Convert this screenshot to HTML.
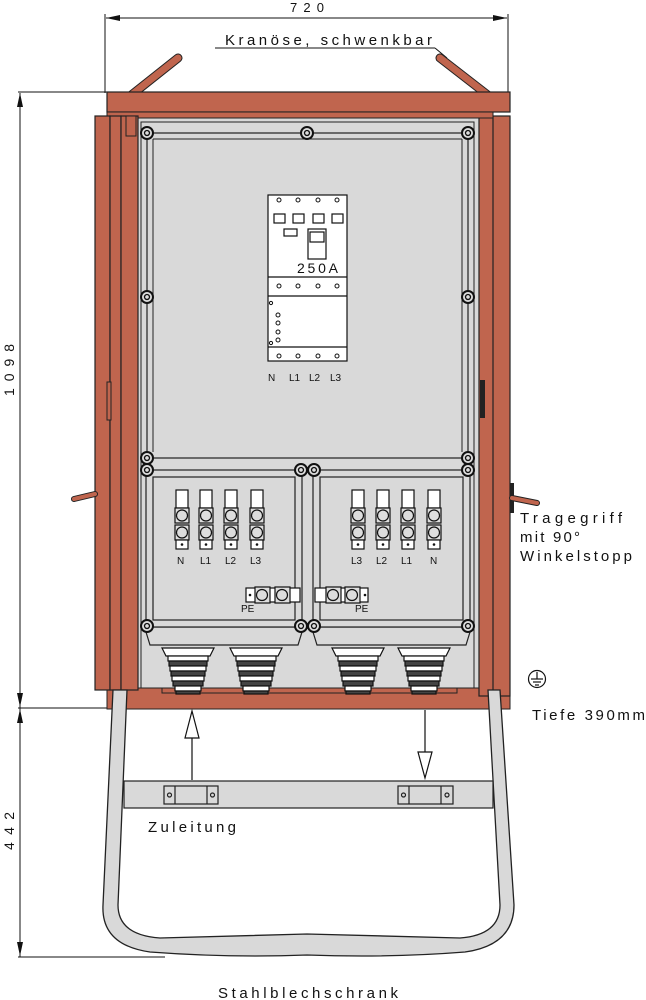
<!DOCTYPE html>
<html><head><meta charset="utf-8"><style>
html,body{margin:0;padding:0;background:#fff;}
svg{display:block;}
text{font-family:"Liberation Sans",sans-serif;fill:#111;}
</style></head><body>
<svg width="646" height="1000" viewBox="0 0 646 1000" xmlns="http://www.w3.org/2000/svg">
<defs>
<g id="scr"><circle r="6" fill="#ddd" stroke="#111" stroke-width="2"/><circle r="2.5" fill="none" stroke="#111" stroke-width="1.3"/></g>
<g id="term">
<rect x="-6" y="0" width="12" height="18" fill="#fff" stroke="#111" stroke-width="1.2"/>
<rect x="-7" y="18" width="14" height="15" fill="#ddd" stroke="#111" stroke-width="1.2"/>
<circle cx="0" cy="25.5" r="5.5" fill="#ddd" stroke="#111" stroke-width="1.2"/>
<rect x="-7" y="35" width="14" height="15" fill="#ddd" stroke="#111" stroke-width="1.2"/>
<circle cx="0" cy="42.5" r="5.5" fill="#ddd" stroke="#111" stroke-width="1.2"/>
<rect x="-6" y="50" width="12" height="9" fill="#fff" stroke="#111" stroke-width="1.2"/>
<circle cx="0" cy="54.5" r="1.3" fill="#111"/>
</g>
<g id="gland" stroke="#111" stroke-width="1.2" fill="#fff">
<path d="M-26 648 L26 648 L22 656 L-22 656 Z"/>
<rect x="-20" y="656" width="40" height="5" fill="#fff"/>
<rect x="-19" y="661" width="38" height="5" fill="#444"/>
<rect x="-18" y="666" width="36" height="5" fill="#fff"/>
<rect x="-17" y="671" width="34" height="5" fill="#444"/>
<rect x="-16" y="676" width="32" height="5" fill="#fff"/>
<rect x="-15" y="681" width="30" height="5" fill="#444"/>
<rect x="-13" y="686" width="26" height="5" fill="#fff"/>
<rect x="-12" y="691" width="24" height="3" fill="#444"/>
</g>
</defs>

<g stroke="#111" stroke-width="1" fill="none">
<line x1="105" y1="14" x2="105" y2="93"/><line x1="508" y1="14" x2="508" y2="93"/>
<line x1="106" y1="18" x2="507" y2="18"/>
<line x1="215" y1="48" x2="435" y2="48"/><line x1="435" y1="48" x2="447" y2="58"/>
<line x1="20" y1="93" x2="20" y2="957"/>
<line x1="18" y1="92" x2="107" y2="92"/><line x1="18" y1="708" x2="107" y2="708"/>
<line x1="18" y1="957" x2="165" y2="957"/>
</g>
<path d="M106 18 L120 15 L120 21 Z M507 18 L493 15 L493 21 Z" fill="#111"/>
<path d="M20 93 L17 107 L23 107 Z M20 707 L17 693 L23 693 Z M20 709 L17 723 L23 723 Z M20 956 L17 942 L23 942 Z" fill="#111"/>
<text x="290" y="12" font-size="13" textLength="34" lengthAdjust="spacing">720</text>
<text x="225" y="45" font-size="15" textLength="207" lengthAdjust="spacing">Kranöse, schwenkbar</text>
<text transform="translate(14,396) rotate(-90)" font-size="14" textLength="52" lengthAdjust="spacing">1098</text>
<text transform="translate(14,850) rotate(-90)" font-size="14" textLength="38" lengthAdjust="spacing">442</text>

<g stroke="#222" stroke-width="9" stroke-linecap="round"><line x1="120" y1="104" x2="178" y2="58"/><line x1="440" y1="58" x2="498" y2="103"/></g>
<g stroke="#c0654e" stroke-width="7" stroke-linecap="round"><line x1="120" y1="104" x2="178" y2="58"/><line x1="440" y1="58" x2="498" y2="103"/></g>

<rect x="107" y="687" width="403" height="22" fill="#c0654e" stroke="#222" stroke-width="1"/>
<rect x="162" y="687" width="295" height="6" fill="#c0654e" stroke="#222" stroke-width="1"/>

<rect x="136" y="116" width="343" height="572" fill="#d9d9d9" stroke="#222" stroke-width="1"/>
<rect x="141" y="122" width="333" height="566" fill="none" stroke="#222" stroke-width="1"/>

<rect x="479" y="116" width="31" height="580" fill="#c0654e" stroke="#222" stroke-width="1.2"/>
<line x1="493" y1="116" x2="493" y2="695" stroke="#222" stroke-width="1.2"/>
<rect x="480" y="380" width="5" height="38" fill="#222"/>
<rect x="107" y="92" width="403" height="20" fill="#c0654e" stroke="#222" stroke-width="1.2"/>
<rect x="107" y="112" width="386" height="6" fill="#c0654e" stroke="#222" stroke-width="1"/>
<rect x="95" y="116" width="15" height="574" fill="#c0654e" stroke="#222" stroke-width="1.2"/>
<rect x="110" y="116" width="11" height="574" fill="#c0654e" stroke="#222" stroke-width="1.2"/>
<rect x="121" y="116" width="17" height="574" fill="#c0654e" stroke="#222" stroke-width="1.2"/>
<rect x="107" y="382" width="4" height="38" fill="#c0654e" stroke="#222" stroke-width="1"/>
<rect x="126" y="116" width="10" height="20" fill="#c0654e" stroke="#222" stroke-width="1"/>
<line x1="74" y1="499" x2="95" y2="494" stroke="#222" stroke-width="6" stroke-linecap="round"/>
<line x1="74" y1="499" x2="95" y2="494" stroke="#c0654e" stroke-width="4" stroke-linecap="round"/>
<rect x="510" y="483" width="4" height="30" fill="#222"/>
<line x1="512" y1="498" x2="537" y2="503" stroke="#222" stroke-width="6" stroke-linecap="round"/>
<line x1="512" y1="498" x2="537" y2="503" stroke="#c0654e" stroke-width="4" stroke-linecap="round"/>

<rect x="147" y="133" width="321" height="325" fill="#d9d9d9" stroke="#222" stroke-width="1.2"/>
<line x1="153" y1="139" x2="462" y2="139" stroke="#222"/><line x1="153" y1="139" x2="153" y2="452" stroke="#222"/><line x1="462" y1="139" x2="462" y2="452" stroke="#222"/>
<use href="#scr" x="147" y="133"/><use href="#scr" x="307" y="133"/><use href="#scr" x="468" y="133"/>
<use href="#scr" x="147" y="297"/><use href="#scr" x="468" y="297"/>
<use href="#scr" x="147" y="458"/><use href="#scr" x="468" y="458"/>

<g stroke="#111" stroke-width="1.2" fill="#fff">
<rect x="268" y="195" width="79" height="166"/>
<line x1="268" y1="277" x2="347" y2="277"/><line x1="268" y1="296" x2="347" y2="296"/><line x1="268" y1="347" x2="347" y2="347"/>
<rect x="274" y="214" width="11" height="9"/><rect x="293" y="214" width="11" height="9"/><rect x="313" y="214" width="11" height="9"/><rect x="332" y="214" width="11" height="9"/>
<rect x="284" y="229" width="13" height="7"/>
<rect x="308" y="229" width="18" height="30"/><rect x="310" y="232" width="14" height="10"/>
<g stroke-width="1"><circle cx="279" cy="200" r="2"/><circle cx="298" cy="200" r="2"/><circle cx="318" cy="200" r="2"/><circle cx="337" cy="200" r="2"/>
<circle cx="279" cy="286" r="2"/><circle cx="298" cy="286" r="2"/><circle cx="318" cy="286" r="2"/><circle cx="337" cy="286" r="2"/>
<circle cx="279" cy="356" r="2"/><circle cx="298" cy="356" r="2"/><circle cx="318" cy="356" r="2"/><circle cx="337" cy="356" r="2"/>
<circle cx="278" cy="315" r="2"/><circle cx="278" cy="323" r="2"/><circle cx="278" cy="332" r="2"/><circle cx="278" cy="340" r="2"/>
<circle cx="271" cy="303" r="1.6"/><circle cx="271" cy="343" r="1.6"/></g>
</g>
<text x="297" y="273" font-size="14" textLength="41" lengthAdjust="spacing">250A</text>
<g font-size="10"><text x="268" y="381">N</text><text x="289" y="381">L1</text><text x="309" y="381">L2</text><text x="330" y="381">L3</text></g>

<g stroke="#222" stroke-width="1.2" fill="#d9d9d9">
<path d="M146 627 L302 627 L302 632 L298 645 L150 645 L146 632 Z"/>
<path d="M313 627 L470 627 L470 632 L466 645 L317 645 L313 632 Z"/>
<rect x="146" y="470" width="156" height="157"/><rect x="313" y="470" width="157" height="157"/>
<rect x="153" y="477" width="142" height="143" fill="none"/><rect x="320" y="477" width="143" height="143" fill="none"/>
</g>
<use href="#scr" x="147" y="470"/><use href="#scr" x="301" y="470"/><use href="#scr" x="314" y="470"/><use href="#scr" x="468" y="470"/>
<use href="#scr" x="147" y="626"/><use href="#scr" x="301" y="626"/><use href="#scr" x="314" y="626"/><use href="#scr" x="468" y="626"/>

<use href="#term" x="182" y="490"/><use href="#term" x="206" y="490"/><use href="#term" x="231" y="490"/><use href="#term" x="257" y="490"/>
<use href="#term" x="358" y="490"/><use href="#term" x="383" y="490"/><use href="#term" x="408" y="490"/><use href="#term" x="434" y="490"/>
<g font-size="10"><text x="177" y="564">N</text><text x="200" y="564">L1</text><text x="225" y="564">L2</text><text x="250" y="564">L3</text>
<text x="351" y="564">L3</text><text x="376" y="564">L2</text><text x="401" y="564">L1</text><text x="430" y="564">N</text>
<text x="241" y="612">PE</text><text x="355" y="612">PE</text></g>
<g stroke="#111" stroke-width="1.2" fill="#fff">
<rect x="246" y="588" width="54" height="14"/><rect x="315" y="588" width="53" height="14"/>
<rect x="255" y="587" width="15" height="16" fill="#ddd"/><circle cx="262" cy="595" r="5.5" fill="#ddd"/>
<rect x="275" y="587" width="15" height="16" fill="#ddd"/><circle cx="282" cy="595" r="5.5" fill="#ddd"/>
<rect x="326" y="587" width="15" height="16" fill="#ddd"/><circle cx="333" cy="595" r="5.5" fill="#ddd"/>
<rect x="345" y="587" width="15" height="16" fill="#ddd"/><circle cx="352" cy="595" r="5.5" fill="#ddd"/>
</g>
<circle cx="250" cy="595" r="1.3" fill="#111"/><circle cx="365" cy="595" r="1.3" fill="#111"/>

<use href="#gland" x="188" y="0"/><use href="#gland" x="256" y="0"/><use href="#gland" x="358" y="0"/><use href="#gland" x="424" y="0"/>

<path d="M113 690 L103 905 Q101 945 150 952 Q230 958 307 955 Q390 958 465 952 Q514 945 514 905 L500 690 L488 690 L500 905 Q500 935 460 938 Q390 936 307 934 Q230 936 160 938 Q118 935 118 905 L127 690 Z" fill="#d9d9d9" stroke="#222" stroke-width="1.3"/>
<rect x="124" y="781" width="369" height="27" fill="#d9d9d9" stroke="#222" stroke-width="1.2"/>
<g stroke="#222" stroke-width="1.2" fill="#d9d9d9">
<rect x="164" y="786" width="54" height="18"/><line x1="175" y1="786" x2="175" y2="804"/><line x1="207" y1="786" x2="207" y2="804"/>
<circle cx="169.5" cy="795" r="2"/><circle cx="212.5" cy="795" r="2"/>
<rect x="398" y="786" width="55" height="18"/><line x1="409" y1="786" x2="409" y2="804"/><line x1="441" y1="786" x2="441" y2="804"/>
<circle cx="403.5" cy="795" r="2"/><circle cx="447" cy="795" r="2"/>
</g>
<g stroke="#111" stroke-width="1.2" fill="#fff">
<line x1="192" y1="737" x2="192" y2="780"/><path d="M192 711 L185 738 L199 738 Z"/>
<line x1="425" y1="710" x2="425" y2="752"/><path d="M425 778 L418 752 L432 752 Z"/>
</g>
<text x="148" y="832" font-size="15" textLength="88" lengthAdjust="spacing">Zuleitung</text>

<g font-size="15"><text x="520" y="523" textLength="102" lengthAdjust="spacing">Tragegriff</text><text x="520" y="542" textLength="60" lengthAdjust="spacing">mit 90°</text><text x="520" y="561" textLength="112" lengthAdjust="spacing">Winkelstopp</text>
<text x="532" y="720" textLength="113" lengthAdjust="spacing">Tiefe 390mm</text></g>
<circle cx="537" cy="679" r="8.5" fill="none" stroke="#111" stroke-width="1.2"/>
<g stroke="#111" stroke-width="1.2"><line x1="537" y1="672" x2="537" y2="679"/><line x1="531" y1="679" x2="543" y2="679"/><line x1="533" y1="682" x2="541" y2="682"/><line x1="535" y1="685" x2="539" y2="685"/></g>
<text x="218" y="998" font-size="15" textLength="180" lengthAdjust="spacing">Stahlblechschrank</text>
</svg>
</body></html>
